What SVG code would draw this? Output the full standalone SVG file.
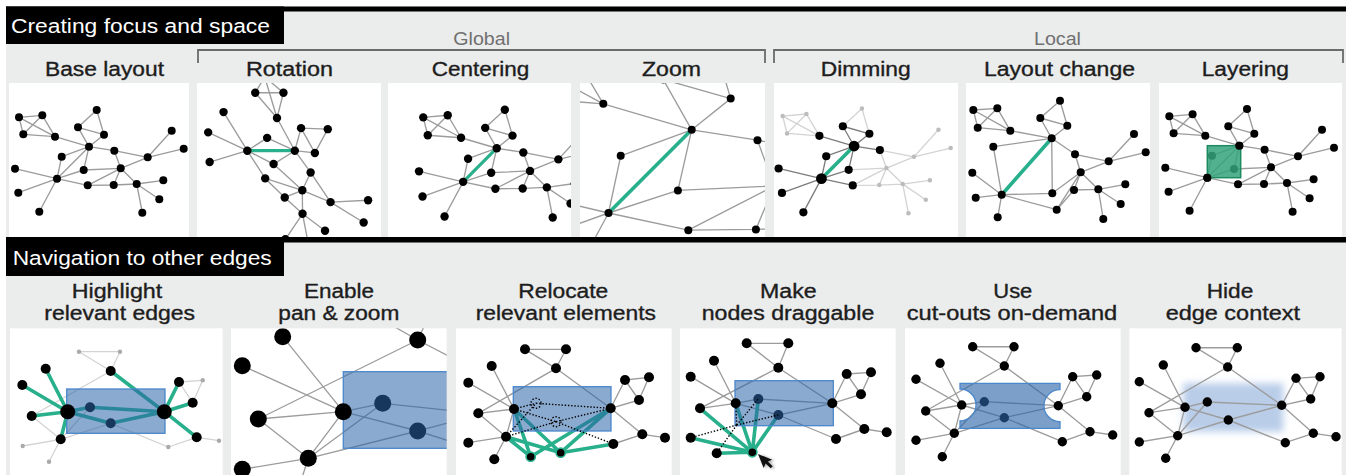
<svg xmlns="http://www.w3.org/2000/svg" width="1346" height="475" viewBox="0 0 1346 475">
<style>
text{font-family:"Liberation Sans",Arial,Helvetica,sans-serif}
.hd{font-size:20px;fill:#fff}
.tt{font-size:20px;fill:#1d1d1d;stroke:#1d1d1d;stroke-width:0.35}
.gl{font-size:17.5px;fill:#707070}
.pn{fill:#fff}
.e{fill:none;stroke:#9c9c9c;stroke-width:1.35;vector-effect:non-scaling-stroke}
.el{fill:none;stroke:#d3d3d3;stroke-width:1.3}
.ed{fill:none;stroke:#7c7c7c;stroke-width:1.3}
.f{fill:none;stroke:#28af8c;stroke-width:3.2;vector-effect:non-scaling-stroke}
.fw{fill:none;stroke:#28af8c;stroke-width:3.6;stroke-linecap:round}
.dot{fill:none;stroke:#000;stroke-width:1.4;stroke-dasharray:1.4 1.8}
.n{fill:#000}
.nd{fill:#bcbcbc}
.ng{fill:#aaa}
.nr{fill:#000;stroke:#28af8c;stroke-width:1.6}
.box{fill:#2a64a8;fill-opacity:.55;stroke:#4a87cc;stroke-width:1.3}
.br{fill:none;stroke:#6b6b6b;stroke-width:1.8}
</style>
<defs>
  <clipPath id="c1"><rect x="9" y="83" width="180" height="154"/></clipPath>
  <clipPath id="c2"><rect x="197" y="83" width="184" height="154"/></clipPath>
  <clipPath id="c3"><rect x="388" y="83" width="183" height="154"/></clipPath>
  <clipPath id="c4"><rect x="580" y="83" width="185" height="154"/></clipPath>
  <clipPath id="c5"><rect x="774" y="83" width="184" height="154"/></clipPath>
  <clipPath id="c6"><rect x="966" y="83" width="184" height="154"/></clipPath>
  <clipPath id="c7"><rect x="1159" y="83" width="183" height="154"/></clipPath>
  <clipPath id="d1"><rect x="10" y="328.3" width="212.7" height="147"/></clipPath>
  <clipPath id="d2"><rect x="231" y="328.3" width="215.7" height="147"/></clipPath>
  <clipPath id="d3"><rect x="456" y="328.3" width="215.7" height="147"/></clipPath>
  <clipPath id="d4"><rect x="680" y="328.3" width="215.7" height="147"/></clipPath>
  <clipPath id="d5"><rect x="905" y="328.3" width="215.7" height="147"/></clipPath>
  <clipPath id="d6"><rect x="1129.3" y="328.3" width="212.4" height="147"/></clipPath>
  <filter id="soft" x="-20%" y="-40%" width="140%" height="180%"><feGaussianBlur stdDeviation="3.5"/></filter>
  <filter id="shade" x="-50%" y="-50%" width="200%" height="200%"><feGaussianBlur stdDeviation="1.6"/></filter>

  <!-- shared graph used by the "Creating focus and space" panels -->
  <path id="base-edges" class="e" d="M19,117.3L42.3,115.3M19,117.3L23.3,134.3M23.3,134.3L55,136.7M42.3,115.3L55,136.7M19,117.3L55,136.7M42.3,115.3L23.3,134.3M55,136.7L89,146.7M96.7,110L78,127.3M96.7,110L104,134.7M78,127.3L104,134.7M78,127.3L89,146.7M104,134.7L89,146.7M89,146.7L61.7,156.7M61.7,156.7L57,178.7M89,146.7L57,178.7M89,146.7L114.3,150.7M89,146.7L83.7,170M57,178.7L15,168.7M57,178.7L18.3,192.7M57,178.7L39.3,211.7M57,178.7L83.7,170M57,178.7L87.7,185.3M83.7,170L120.7,168.3M114.3,150.7L120.7,168.3M114.3,150.7L147.7,157.3M147.7,157.3L171.7,130.7M147.7,157.3L183.7,148.7M120.7,168.3L147.7,157.3M120.7,168.3L113.7,185M120.7,168.3L136.7,184M120.7,168.3L87.7,185.3M87.7,185.3L113.7,185M113.7,185L136.7,184M136.7,184L163.3,180.3M136.7,184L159.3,199.3M136.7,184L142.3,212.7"/>
  <g id="base-nodes" class="n">
    <circle cx="19" cy="117.3" r="4"/><circle cx="42.3" cy="115.3" r="4"/><circle cx="23.3" cy="134.3" r="4"/><circle cx="55" cy="136.7" r="4"/>
    <circle cx="96.7" cy="110" r="4"/><circle cx="78" cy="127.3" r="4"/><circle cx="104" cy="134.7" r="4"/><circle cx="89" cy="146.7" r="4"/>
    <circle cx="61.7" cy="156.7" r="4"/><circle cx="114.3" cy="150.7" r="4"/><circle cx="171.7" cy="130.7" r="4"/><circle cx="183.7" cy="148.7" r="4"/>
    <circle cx="147.7" cy="157.3" r="4"/><circle cx="15" cy="168.7" r="4"/><circle cx="57" cy="178.7" r="4"/><circle cx="83.7" cy="170" r="4"/>
    <circle cx="120.7" cy="168.3" r="4"/><circle cx="18.3" cy="192.7" r="4"/><circle cx="87.7" cy="185.3" r="4"/><circle cx="113.7" cy="185" r="4"/>
    <circle cx="136.7" cy="184" r="4"/><circle cx="163.3" cy="180.3" r="4"/><circle cx="159.3" cy="199.3" r="4"/><circle cx="39.3" cy="211.7" r="4"/>
    <circle cx="142.3" cy="212.7" r="4"/>
  </g>
</defs>

<rect width="1346" height="475" fill="#fff"/>
<rect x="6" y="6.5" width="1340" height="468.5" fill="#ebecec"/>

<!-- section headers -->
<g id="header-focus">
  <rect x="6" y="6.5" width="1340" height="5" fill="#000"/>
  <rect x="6" y="6.5" width="278" height="37.5" fill="#000"/>
  <text class="hd" x="11" y="33" textLength="259" lengthAdjust="spacingAndGlyphs">Creating focus and space</text>
</g>
<g id="header-nav">
  <rect x="6" y="237" width="1340" height="5.5" fill="#000"/>
  <rect x="6" y="237" width="278" height="39" fill="#000"/>
  <text class="hd" x="12.7" y="265" textLength="259" lengthAdjust="spacingAndGlyphs">Navigation to other edges</text>
</g>

<!-- group brackets -->
<g id="bracket-global">
  <path class="br" d="M198,63V50H765V63"/>
  <text class="gl" x="453.3" y="45" textLength="56.7" lengthAdjust="spacingAndGlyphs">Global</text>
</g>
<g id="bracket-local">
  <path class="br" d="M774,63V50H1343V63"/>
  <text class="gl" x="1034" y="44.5" textLength="47" lengthAdjust="spacingAndGlyphs">Local</text>
</g>

<!-- top row titles -->
<g id="titles-top">
  <text class="tt" x="45" y="76" textLength="119" lengthAdjust="spacingAndGlyphs">Base layout</text>
  <text class="tt" x="246" y="76" textLength="87" lengthAdjust="spacingAndGlyphs">Rotation</text>
  <text class="tt" x="431.7" y="76" textLength="97.6" lengthAdjust="spacingAndGlyphs">Centering</text>
  <text class="tt" x="642" y="76" textLength="59" lengthAdjust="spacingAndGlyphs">Zoom</text>
  <text class="tt" x="820.7" y="76" textLength="90" lengthAdjust="spacingAndGlyphs">Dimming</text>
  <text class="tt" x="984" y="76" textLength="151" lengthAdjust="spacingAndGlyphs">Layout change</text>
  <text class="tt" x="1201.7" y="76" textLength="87.3" lengthAdjust="spacingAndGlyphs">Layering</text>
</g>

<!-- Base layout -->
<g id="panel-base">
  <rect class="pn" x="9" y="83" width="180" height="154"/>
  <g clip-path="url(#c1)">
    <use href="#base-edges"/>
    <use href="#base-nodes"/>
  </g>
</g>

<!-- Rotation -->
<g id="panel-rotation">
  <rect class="pn" x="197" y="83" width="184" height="154"/>
  <g clip-path="url(#c2)">
    <g transform="translate(247.3,150.7) rotate(45) scale(1.05) translate(-57,-178.7)">
      <use href="#base-edges"/>
      <path class="f" d="M89,146.7L57,178.7"/>
      <use href="#base-nodes"/>
    </g>
  </g>
</g>

<!-- Centering -->
<g id="panel-centering">
  <rect class="pn" x="388" y="83" width="183" height="154"/>
  <g clip-path="url(#c3)">
    <g transform="translate(403.3,-5.8) scale(1.05)">
      <use href="#base-edges"/>
      <path class="f" d="M89,146.7L57,178.7"/>
      <use href="#base-nodes"/>
    </g>
  </g>
</g>

<!-- Zoom -->
<g id="panel-zoom">
  <rect class="pn" x="580" y="83" width="185" height="154"/>
  <g clip-path="url(#c4)">
    <use href="#base-edges" transform="translate(608.5,213) scale(2.6) translate(-57,-178.7)"/>
    <path class="fw" d="M691.7,129.8L608.5,213"/>
    <g class="n">
      <circle cx="603.3" cy="103.8" r="4"/><circle cx="663.1" cy="79.4" r="4"/><circle cx="730.7" cy="98.6" r="4"/>
      <circle cx="691.7" cy="129.8" r="4"/><circle cx="620.7" cy="155.8" r="4"/><circle cx="757.5" cy="140.2" r="4"/>
      <circle cx="608.5" cy="213" r="4"/><circle cx="677.9" cy="190.4" r="4"/><circle cx="688.3" cy="230.2" r="4"/>
      <circle cx="755.9" cy="229.4" r="4"/>
    </g>
  </g>
</g>

<!-- Dimming -->
<g id="panel-dimming">
  <rect class="pn" x="774" y="83" width="184" height="154"/>
  <g clip-path="url(#c5)">
    <g transform="translate(763.3,-3.6) scale(1.02)">
      <path class="el" d="M19,117.3L42.3,115.3M19,117.3L23.3,134.3M23.3,134.3L55,136.7M42.3,115.3L55,136.7M19,117.3L55,136.7M42.3,115.3L23.3,134.3M96.7,110L78,127.3M96.7,110L104,134.7M83.7,170L120.7,168.3M114.3,150.7L120.7,168.3M114.3,150.7L147.7,157.3M147.7,157.3L171.7,130.7M147.7,157.3L183.7,148.7M120.7,168.3L147.7,157.3M120.7,168.3L113.7,185M120.7,168.3L136.7,184M120.7,168.3L87.7,185.3M87.7,185.3L113.7,185M113.7,185L136.7,184M136.7,184L163.3,180.3M136.7,184L159.3,199.3M136.7,184L142.3,212.7"/>
      <path class="ed" d="M78,127.3L104,134.7M55,136.7L89,146.7M78,127.3L89,146.7M104,134.7L89,146.7M89,146.7L61.7,156.7M61.7,156.7L57,178.7M89,146.7L114.3,150.7M89,146.7L83.7,170M57,178.7L15,168.7M57,178.7L18.3,192.7M57,178.7L39.3,211.7M57,178.7L83.7,170M57,178.7L87.7,185.3"/>
      <path class="fw" d="M89,146.7L57,178.7"/>
      <g class="nd">
        <circle cx="19" cy="117.3" r="2.2"/><circle cx="42.3" cy="115.3" r="2.2"/><circle cx="23.3" cy="134.3" r="2.2"/>
        <circle cx="96.7" cy="110" r="2.2"/><circle cx="171.7" cy="130.7" r="2.2"/><circle cx="183.7" cy="148.7" r="2.2"/>
        <circle cx="147.7" cy="157.3" r="2.2"/><circle cx="120.7" cy="168.3" r="2.2"/><circle cx="113.7" cy="185" r="2.2"/>
        <circle cx="136.7" cy="184" r="2.2"/><circle cx="163.3" cy="180.3" r="2.2"/><circle cx="159.3" cy="199.3" r="2.2"/>
        <circle cx="142.3" cy="212.7" r="2.2"/>
      </g>
      <g class="n">
        <circle cx="55" cy="136.7" r="4"/><circle cx="78" cy="127.3" r="4"/><circle cx="104" cy="134.7" r="4"/>
        <circle cx="61.7" cy="156.7" r="4"/><circle cx="114.3" cy="150.7" r="4"/><circle cx="83.7" cy="170" r="4"/>
        <circle cx="15" cy="168.7" r="4"/><circle cx="18.3" cy="192.7" r="4"/><circle cx="39.3" cy="211.7" r="4"/>
        <circle cx="87.7" cy="185.3" r="4"/>
        <circle cx="89" cy="146.7" r="5.3"/><circle cx="57" cy="178.7" r="5.3"/>
      </g>
    </g>
  </g>
</g>

<!-- Layout change -->
<g id="panel-layout-change">
  <rect class="pn" x="966" y="83" width="184" height="154"/>
  <g clip-path="url(#c6)">
    <path class="e" d="M973.3,110L997.3,108.3M973.3,110L977.7,127.7M977.7,127.7L1010.3,130.7M997.3,108.3L1010.3,130.7M973.3,110L1010.3,130.7M997.3,108.3L977.7,127.7M1010.3,130.7L1051.7,138.3M1060,100.7L1040.3,118M1060,100.7L1067.3,125.7M1040.3,118L1067.3,125.7M1040.3,118L1051.7,138.3M1067.3,125.7L1051.7,138.3M1051.7,138.3L993.3,146.7M993.3,146.7L1001.7,194.7M1051.7,138.3L1075,154.3M1051.7,138.3L1052.3,193.3M1001.7,194.7L972.3,172.7M1001.7,194.7L975.7,197.7M1001.7,194.7L997.7,217.3M1001.7,194.7L1052.3,193.3M1001.7,194.7L1056.7,209.7M1052.3,193.3L1080.7,172.3M1075,154.3L1080.7,172.3M1075,154.3L1108.7,161.3M1108.7,161.3L1134,134M1108.7,161.3L1145.7,152.3M1080.7,172.3L1108.7,161.3M1080.7,172.3L1074,190M1080.7,172.3L1098.3,189.3M1080.7,172.3L1056.7,209.7M1056.7,209.7L1074,190M1074,190L1098.3,189.3M1098.3,189.3L1125.3,184.3M1098.3,189.3L1120.7,204M1098.3,189.3L1103.3,219"/>
    <path class="fw" d="M1051.7,138.3L1001.7,194.7"/>
    <g class="n">
      <circle cx="973.3" cy="110" r="4"/><circle cx="997.3" cy="108.3" r="4"/><circle cx="977.7" cy="127.7" r="4"/><circle cx="1010.3" cy="130.7" r="4"/>
      <circle cx="1060" cy="100.7" r="4"/><circle cx="1040.3" cy="118" r="4"/><circle cx="1067.3" cy="125.7" r="4"/><circle cx="1051.7" cy="138.3" r="4"/>
      <circle cx="993.3" cy="146.7" r="4"/><circle cx="1075" cy="154.3" r="4"/><circle cx="1134" cy="134" r="4"/><circle cx="1145.7" cy="152.3" r="4"/>
      <circle cx="1108.7" cy="161.3" r="4"/><circle cx="972.3" cy="172.7" r="4"/><circle cx="1001.7" cy="194.7" r="4"/><circle cx="1052.3" cy="193.3" r="4"/>
      <circle cx="1080.7" cy="172.3" r="4"/><circle cx="975.7" cy="197.7" r="4"/><circle cx="1056.7" cy="209.7" r="4"/><circle cx="1074" cy="190" r="4"/>
      <circle cx="1098.3" cy="189.3" r="4"/><circle cx="1125.3" cy="184.3" r="4"/><circle cx="1120.7" cy="204" r="4"/><circle cx="997.7" cy="217.3" r="4"/>
      <circle cx="1103.3" cy="219" r="4"/>
    </g>
  </g>
</g>

<!-- Layering -->
<g id="panel-layering">
  <rect class="pn" x="1159" y="83" width="183" height="154"/>
  <g clip-path="url(#c7)">
    <g transform="translate(1150.3,-1)">
      <use href="#base-edges"/>
      <use href="#base-nodes"/>
      <rect x="57" y="146.7" width="33.4" height="32" fill="#34a37a" fill-opacity="0.85" stroke="#1f8a62" stroke-width="1.5"/>
      <circle class="n" cx="89" cy="146.7" r="4"/>
      <circle class="n" cx="57" cy="178.7" r="4"/>
    </g>
  </g>
</g>

<!-- bottom row titles -->
<g id="titles-bottom">
  <text class="tt" x="71.7" y="298.3" textLength="90.6" lengthAdjust="spacingAndGlyphs">Highlight</text>
  <text class="tt" x="44.3" y="319.5" textLength="150.7" lengthAdjust="spacingAndGlyphs">relevant edges</text>
  <text class="tt" x="304" y="298.3" textLength="70" lengthAdjust="spacingAndGlyphs">Enable</text>
  <text class="tt" x="278.3" y="319.5" textLength="121" lengthAdjust="spacingAndGlyphs">pan &amp; zoom</text>
  <text class="tt" x="518.3" y="298.3" textLength="90" lengthAdjust="spacingAndGlyphs">Relocate</text>
  <text class="tt" x="475.7" y="319.5" textLength="180.3" lengthAdjust="spacingAndGlyphs">relevant elements</text>
  <text class="tt" x="760" y="298.3" textLength="56.7" lengthAdjust="spacingAndGlyphs">Make</text>
  <text class="tt" x="701.7" y="319.5" textLength="172.6" lengthAdjust="spacingAndGlyphs">nodes draggable</text>
  <text class="tt" x="993.3" y="298.3" textLength="39" lengthAdjust="spacingAndGlyphs">Use</text>
  <text class="tt" x="906.7" y="319.5" textLength="210.6" lengthAdjust="spacingAndGlyphs">cut-outs on-demand</text>
  <text class="tt" x="1206.7" y="298.3" textLength="46.6" lengthAdjust="spacingAndGlyphs">Hide</text>
  <text class="tt" x="1165.7" y="319.5" textLength="134.3" lengthAdjust="spacingAndGlyphs">edge context</text>
</g>

<!-- Highlight relevant edges -->
<g id="panel-highlight">
  <rect class="pn" x="10" y="328.3" width="212.7" height="147"/>
  <g clip-path="url(#d1)">
    <path class="el" d="M79,351.7L120,351.7M79,351.7L110.7,371M120,351.7L110.7,371M110.7,371L31.7,416M31.7,416L60.7,439.3M60.7,439.3L22.7,446M60.7,439.3L49,461.7M60.7,439.3L90,407.3M60.7,439.3L110.7,423.3M179,382L202.7,380.3M202.7,380.3L192.7,402.7M179,382L192.7,402.7M196.7,437.3L219,440.7M196.7,437.3L168.3,447M110.7,423.3L168.3,447"/>
    <path class="fw" d="M67.7,411.7L45.7,368.7M67.7,411.7L22.3,385M67.7,411.7L31.7,416M67.7,411.7L60.7,439.3M67.7,411.7L90,407.3M67.7,411.7L110.7,423.3M90,407.3L164.3,411.7M110.7,423.3L164.3,411.7M164.3,411.7L110.7,371M164.3,411.7L179,382M164.3,411.7L192.7,402.7M164.3,411.7L196.7,437.3"/>
    <circle class="n" cx="90" cy="407.3" r="5"/><circle class="n" cx="110.7" cy="423.3" r="5"/>
    <rect class="box" x="66.7" y="389" width="98.3" height="44.3"/>
    <g class="n">
      <circle cx="67.7" cy="411.7" r="7.5"/><circle cx="164.3" cy="411.7" r="7.5"/>
      <circle cx="110.7" cy="371" r="5"/><circle cx="45.7" cy="368.7" r="5"/><circle cx="22.3" cy="385" r="5"/>
      <circle cx="179" cy="382" r="5"/><circle cx="192.7" cy="402.7" r="5"/><circle cx="31.7" cy="416" r="5"/>
      <circle cx="60.7" cy="439.3" r="5"/><circle cx="196.7" cy="437.3" r="5"/>
    </g>
    <g class="ng">
      <circle cx="79" cy="351.7" r="2.2"/><circle cx="120" cy="351.7" r="2.2"/><circle cx="202.7" cy="380.3" r="2.2"/>
      <circle cx="22.7" cy="446" r="2.2"/><circle cx="219" cy="440.7" r="2.2"/><circle cx="168.3" cy="447" r="2.2"/>
      <circle cx="49" cy="461.7" r="2.2"/>
    </g>
  </g>
</g>

<!-- Enable pan & zoom -->
<g id="panel-panzoom">
  <rect class="pn" x="231" y="328.3" width="215.7" height="147"/>
  <g clip-path="url(#d2)">
    <path class="e" d="M282.7,336.7L343.3,411.7M242.3,365.7L343.3,411.7M258.3,419L417.7,340M258.3,419L343.3,411.7M258.3,419L308.3,458.3M308.3,458.3L343.3,411.7M308.3,458.3L382.7,403.3M308.3,458.3L417.7,431M308.3,458.3L242.3,469.3M308.3,458.3L298,490M343.3,411.7L382.7,403.3M343.3,411.7L417.7,431M382.7,403.3L470,412.5M417.7,431L470,417M417.7,431L470,447.5M417.7,340L365,310M417.7,340L431.7,310M417.7,340L475,370"/>
    <circle class="n" cx="382.7" cy="403.3" r="8.5"/><circle class="n" cx="417.7" cy="431" r="8.5"/>
    <rect class="box" x="343.3" y="371.7" width="120" height="76.6"/>
    <g class="n">
      <circle cx="282.7" cy="336.7" r="8.5"/><circle cx="242.3" cy="365.7" r="8.5"/><circle cx="417.7" cy="340" r="8.5"/>
      <circle cx="258.3" cy="419" r="8.5"/><circle cx="343.3" cy="411.7" r="8.5"/><circle cx="308.3" cy="458.3" r="8.5"/>
      <circle cx="242.3" cy="469.3" r="8.5"/>
    </g>
  </g>
</g>

<!-- Relocate relevant elements -->
<g id="panel-relocate">
  <rect class="pn" x="456" y="328.3" width="215.7" height="147"/>
  <g clip-path="url(#d3)">
    <path class="e" d="M525,349.3L566,349.3M525,349.3L556,368.3M566,349.3L556,368.3M556,368.3L478.3,413.3M556,368.3L610.7,408.3M491.7,366L514,409M468.3,382.7L514,409M478.3,413.3L514,409M478.3,413.3L506,436.7M506,436.7L514,409M506,436.7L468.3,442.7M506,436.7L494.3,459.3M610.7,408.3L625,380M610.7,408.3L639,400M625,380L649,377.3M649,377.3L639,400M625,380L639,400M610.7,408.3L642.3,434.3M642.3,434.3L665,437.7M642.3,434.3L613.3,444"/>
    <path class="fw" d="M514,409L530.7,456.7M514,409L560.7,452.7M610.7,408.3L530.7,456.7M610.7,408.3L560.7,452.7M506,436.7L530.7,456.7M506,436.7L560.7,452.7M560.7,452.7L613.3,444"/>
    <rect class="box" x="513.3" y="386.7" width="97.7" height="44.3"/>
    <path class="dot" d="M514,409L536,403.3M536,403.3L610.7,408.3M514,409L556,421.7M556,421.7L610.7,408.3M506,436.7L536,403.3M506,436.7L556,421.7M556,421.7L613.3,444"/>
    <circle class="dot" cx="536" cy="403.3" r="5"/><circle class="dot" cx="556" cy="421.7" r="5"/>
    <g class="n">
      <circle cx="525" cy="349.3" r="5"/><circle cx="566" cy="349.3" r="5"/><circle cx="556" cy="368.3" r="5"/>
      <circle cx="491.7" cy="366" r="5"/><circle cx="468.3" cy="382.7" r="5"/><circle cx="625" cy="380" r="5"/>
      <circle cx="649" cy="377.3" r="5"/><circle cx="639" cy="400" r="5"/><circle cx="514" cy="409" r="5"/>
      <circle cx="610.7" cy="408.3" r="5"/><circle cx="478.3" cy="413.3" r="5"/><circle cx="506" cy="436.7" r="5"/>
      <circle cx="468.3" cy="442.7" r="5"/><circle cx="642.3" cy="434.3" r="5"/><circle cx="665" cy="437.7" r="5"/>
      <circle cx="613.3" cy="444" r="5"/><circle cx="494.3" cy="459.3" r="5"/>
    </g>
    <circle class="nr" cx="530.7" cy="456.7" r="4.6"/><circle class="nr" cx="560.7" cy="452.7" r="4.6"/>
  </g>
</g>

<!-- Make nodes draggable -->
<g id="panel-draggable">
  <rect class="pn" x="680" y="328.3" width="215.7" height="147"/>
  <g clip-path="url(#d4)">
    <path class="e" d="M746.7,343.3L788.3,343.3M746.7,343.3L778.3,367.7M788.3,343.3L778.3,367.7M778.3,367.7L700,408.3M778.3,367.7L832.3,403.3M714,360.7L735.7,403.3M690.7,376.7L735.7,403.3M700,408.3L735.7,403.3M735.7,403.3L758.3,399M758.3,399L832.3,403.3M735.7,403.3L778.3,415M778.3,415L832.3,403.3M832.3,403.3L846.7,374M832.3,403.3L861,394.3M846.7,374L871,372.3M871,372.3L861,394.3M846.7,374L861,394.3M832.3,403.3L864.3,429M864.3,429L886.7,432.3M864.3,429L836,439M778.3,415L836,439"/>
    <path class="fw" d="M752.3,452.3L700,408.3M752.3,452.3L690.7,437.7M752.3,452.3L716.7,453.3M752.3,452.3L735.7,403.3M752.3,452.3L758.3,399M752.3,452.3L778.3,415"/>
    <circle class="n" cx="758.3" cy="399" r="5"/><circle class="n" cx="778.3" cy="415" r="5"/>
    <rect class="box" x="735" y="380.7" width="98.3" height="45"/>
    <path class="dot" d="M736.7,425L690.7,437.7M736.7,425L716.7,453.3M736.7,425L735.7,403.3M736.7,425L758.3,399M736.7,425L778.3,415"/>
    <g class="n">
      <circle cx="746.7" cy="343.3" r="5"/><circle cx="788.3" cy="343.3" r="5"/><circle cx="778.3" cy="367.7" r="5"/>
      <circle cx="714" cy="360.7" r="5"/><circle cx="690.7" cy="376.7" r="5"/><circle cx="846.7" cy="374" r="5"/>
      <circle cx="871" cy="372.3" r="5"/><circle cx="861" cy="394.3" r="5"/><circle cx="735.7" cy="403.3" r="5"/>
      <circle cx="832.3" cy="403.3" r="5"/><circle cx="700" cy="408.3" r="5"/><circle cx="690.7" cy="437.7" r="5"/>
      <circle cx="716.7" cy="453.3" r="5"/><circle cx="864.3" cy="429" r="5"/><circle cx="886.7" cy="432.3" r="5"/>
      <circle cx="836" cy="439" r="5"/>
    </g>
    <circle class="nr" cx="752.3" cy="452.3" r="4.6"/>
    <!-- mouse pointer dragging the node -->
    <g transform="translate(758,454) rotate(-22)">
      <polygon points="0,0 0,15 3.6,11.6 6.4,18 9,16.9 6.3,10.6 11,10.6" fill="#000" opacity="0.35" filter="url(#shade)" transform="translate(1.5,1.5)"/>
      <polygon points="0,0 0,15 3.6,11.6 6.4,18 9,16.9 6.3,10.6 11,10.6" fill="#111"/>
    </g>
  </g>
</g>

<!-- Use cut-outs on-demand -->
<g id="panel-cutouts">
  <rect class="pn" x="905" y="328.3" width="215.7" height="147"/>
  <g clip-path="url(#d5)">
    <path class="e" d="M972.7,346.7L1014,346.7M972.7,346.7L1004.3,366M1014,346.7L1004.3,366M1004.3,366L925.7,411M1004.3,366L1058.3,405.7M940,363.3L961.7,405M916,379.3L961.7,405M925.7,411L961.7,405M925.7,411L954.3,433.3M961.7,405L954.3,433.3M961.7,405L984.3,401.7M961.7,405L1004.3,417.7M984.3,401.7L1058.3,405.7M1004.3,417.7L1058.3,405.7M954.3,433.3L916,440.3M954.3,433.3L942.3,456.7M954.3,433.3L984.3,401.7M954.3,433.3L1004.3,417.7M1058.3,405.7L1072.7,376.7M1058.3,405.7L1086.7,396.7M1072.7,376.7L1096.7,375M1096.7,375L1086.7,396.7M1072.7,376.7L1086.7,396.7M1058.3,405.7L1090,431.7M1090,431.7L1112.7,435M1090,431.7L1062.3,441.7M1004.3,417.7L1062.3,441.7"/>
    <circle class="n" cx="984.3" cy="401.7" r="4.7"/><circle class="n" cx="1004.3" cy="417.7" r="4.7"/>
    <path class="box" style="fill-opacity:.62" d="M960,383.3H1060V389.7A16,16 0 0 0 1060,421.7V428.3H960V421A16,16 0 0 0 960,389Z"/>
    <g class="n">
      <circle cx="972.7" cy="346.7" r="4.7"/><circle cx="1014" cy="346.7" r="4.7"/><circle cx="1004.3" cy="366" r="4.7"/>
      <circle cx="940" cy="363.3" r="4.7"/><circle cx="916" cy="379.3" r="4.7"/><circle cx="1072.7" cy="376.7" r="4.7"/>
      <circle cx="1096.7" cy="375" r="4.7"/><circle cx="1086.7" cy="396.7" r="4.7"/><circle cx="961.7" cy="405" r="4.7"/>
      <circle cx="1058.3" cy="405.7" r="4.7"/><circle cx="925.7" cy="411" r="4.7"/><circle cx="954.3" cy="433.3" r="4.7"/>
      <circle cx="916" cy="440.3" r="4.7"/><circle cx="1090" cy="431.7" r="4.7"/><circle cx="1112.7" cy="435" r="4.7"/>
      <circle cx="1062.3" cy="441.7" r="4.7"/><circle cx="942.3" cy="456.7" r="4.7"/>
    </g>
  </g>
</g>

<!-- Hide edge context -->
<g id="panel-hide">
  <rect class="pn" x="1129.3" y="328.3" width="212.4" height="147"/>
  <g clip-path="url(#d6)">
    <rect x="1183.3" y="383.3" width="100" height="48.4" fill="#b9cde9" filter="url(#soft)"/>
    <path class="e" d="M1196,347.7L1237.3,347.7M1196,347.7L1227.7,367M1237.3,347.7L1227.7,367M1227.7,367L1149,412.7M1227.7,367L1281.7,405.3M1163.3,365L1185,407.3M1139.3,381.7L1185,407.3M1149,412.7L1185,407.3M1149,412.7L1177.7,435.7M1185,407.3L1177.7,435.7M1185,407.3L1207.3,402M1185,407.3L1228.3,420M1207.3,402L1281.7,405.3M1228.3,420L1281.7,405.3M1177.7,435.7L1139.3,442M1177.7,435.7L1165.7,458.3M1177.7,435.7L1207.3,402M1177.7,435.7L1228.3,420M1281.7,405.3L1296,378.3M1281.7,405.3L1310.7,399M1296,378.3L1320,376.7M1320,376.7L1310.7,399M1296,378.3L1310.7,399M1281.7,405.3L1313.3,433.3M1313.3,433.3L1336,436.7M1313.3,433.3L1285.3,442.7M1228.3,420L1285.3,442.7"/>
    <g class="n">
      <circle cx="1196" cy="347.7" r="4.7"/><circle cx="1237.3" cy="347.7" r="4.7"/><circle cx="1227.7" cy="367" r="4.7"/>
      <circle cx="1163.3" cy="365" r="4.7"/><circle cx="1139.3" cy="381.7" r="4.7"/><circle cx="1296" cy="378.3" r="4.7"/>
      <circle cx="1320" cy="376.7" r="4.7"/><circle cx="1310.7" cy="399" r="4.7"/><circle cx="1185" cy="407.3" r="4.7"/>
      <circle cx="1207.3" cy="402" r="4.7"/><circle cx="1281.7" cy="405.3" r="4.7"/><circle cx="1149" cy="412.7" r="4.7"/>
      <circle cx="1228.3" cy="420" r="4.7"/><circle cx="1177.7" cy="435.7" r="4.7"/><circle cx="1139.3" cy="442" r="4.7"/>
      <circle cx="1313.3" cy="433.3" r="4.7"/><circle cx="1336" cy="436.7" r="4.7"/><circle cx="1285.3" cy="442.7" r="4.7"/>
      <circle cx="1165.7" cy="458.3" r="4.7"/>
    </g>
  </g>
</g>
</svg>
